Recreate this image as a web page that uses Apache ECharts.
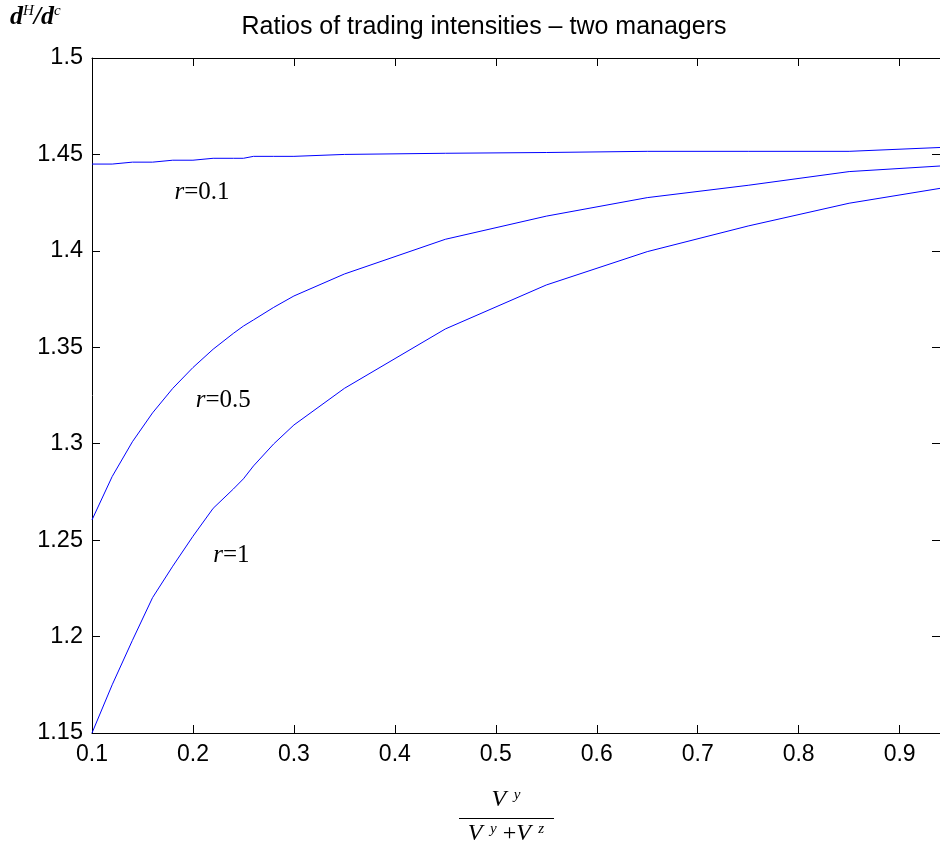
<!DOCTYPE html>
<html>
<head>
<meta charset="utf-8">
<script src="https://cdn.jsdelivr.net/npm/echarts@6/dist/echarts.min.js"></script>
<style>html,body{margin:0;padding:0;background:#fff}#c{width:940px;height:850px}</style>
</head>
<body>
<div id="c"></div>
<script>
// ---- data ----
const xValues = [0.1, 0.12, 0.14, 0.16, 0.18, 0.2, 0.22, 0.24, 0.25, 0.26, 0.28, 0.3, 0.35, 0.45, 0.55, 0.65, 0.75, 0.85, 0.94];
const r01 = [1.445, 1.445, 1.446, 1.446, 1.447, 1.447, 1.448, 1.448, 1.448, 1.449, 1.449, 1.449, 1.450, 1.4506, 1.451, 1.4516, 1.4516, 1.4516, 1.4536];
const r05 = [1.2605, 1.283, 1.301, 1.316, 1.3287, 1.3395, 1.349, 1.3572, 1.361, 1.3642, 1.3707, 1.3766, 1.388, 1.406, 1.418, 1.4276, 1.434, 1.4411, 1.444];
const r1  = [1.15, 1.175, 1.198, 1.2202, 1.2365, 1.252, 1.2665, 1.2765, 1.2818, 1.2885, 1.2999, 1.3097, 1.3287, 1.3595, 1.3823, 1.3996, 1.4129, 1.4247, 1.4324];
const seriesNames = ['r=0.1', 'r=0.5', 'r=1'];
const labelTexts = ['0.1', '0.5', '1'];
const labelX = [0.209, 0.23, 0.238];
const labelY = [1.4305, 1.3222, 1.2423];
const titleText = 'Ratios of trading intensities \u2013 two managers';

const chart = echarts.init(document.getElementById('c'), null, {renderer: 'canvas'});
const pairs = ys => xValues.map((x, i) => [x, ys[i]]);
const serif = 'Liberation Serif';
const sans = 'Liberation Sans';

const lineSeries = [r01, r05, r1].map((ys, i) => ({
  name: seriesNames[i], type: 'line', data: pairs(ys), showSymbol: false, symbol: 'none',
  lineStyle: {color: '#0000ff', width: 1}, itemStyle: {color: '#0000ff'}, clip: true, animation: false
}));

const labelSeries = {
  type: 'scatter', symbolSize: 0, animation: false, silent: true,
  itemStyle: {color: '#000', opacity: 1},
  data: labelTexts.map((t, i) => ({value: [labelX[i], labelY[i]], name: t})),
  label: {
    show: true, position: 'inside', color: '#000', opacity: 1, textBorderWidth: 0,
    formatter: p => '{i|r}{n|=' + p.name + '}',
    rich: {
      i: {fontFamily: serif, fontStyle: 'italic', fontSize: 25, color: '#000', textBorderWidth: 0},
      n: {fontFamily: serif, fontSize: 25, color: '#000', textBorderWidth: 0}
    }
  }
};

const tickStyle = {show: true, inside: true, length: 8, lineStyle: {color: '#000', width: 1}};

chart.setOption({
  animation: false,
  backgroundColor: '#fff',
  title: {
    text: titleText, left: 479, top: 10, textAlign: 'center',
    textStyle: {fontFamily: sans, fontSize: 25, fontWeight: 'normal', color: '#000'}
  },
  grid: {left: 92, top: 58, right: 0, bottom: 117, containLabel: false, outerBoundsMode: 'none'},
  xAxis: [
    {type: 'value', position: 'bottom', min: 0.1, max: 0.94, interval: 0.1,
     axisLine: {show: true, lineStyle: {color: '#000', width: 1}},
     axisTick: tickStyle, splitLine: {show: false},
     axisLabel: {show: true, showMaxLabel: false, margin: 10, fontFamily: sans, fontSize: 23, color: '#000',
       formatter: v => (+v.toFixed(2)).toString()}},
    {type: 'value', position: 'top', min: 0.1, max: 0.94, interval: 0.1,
     axisLine: {show: true, lineStyle: {color: '#000', width: 1}},
     axisTick: tickStyle, splitLine: {show: false}, axisLabel: {show: false}}
  ],
  yAxis: [
    {type: 'value', position: 'left', min: 1.15, max: 1.5, interval: 0.05,
     axisLine: {show: true, lineStyle: {color: '#000', width: 1}},
     axisTick: tickStyle, splitLine: {show: false},
     axisLabel: {show: true, margin: 9, fontFamily: sans, fontSize: 23.5, color: '#000',
       formatter: v => (+v.toFixed(2)).toString()}},
    {type: 'value', position: 'right', min: 1.15, max: 1.5, interval: 0.05,
     axisLine: {show: false}, axisTick: tickStyle, splitLine: {show: false}, axisLabel: {show: false}}
  ],
  series: [...lineSeries, labelSeries],
  graphic: [
    {type: 'text', x: 10, y: 4, style: {
      text: '{d|d}{s|H}{d|/d}{s|c}',
      rich: {
        d: {fontFamily: serif, fontStyle: 'italic', fontWeight: 'bold', fontSize: 26, color: '#000'},
        s: {fontFamily: serif, fontStyle: 'italic', fontSize: 15, color: '#000', verticalAlign: 'top'}
      }
    }},
    {type: 'text', x: 506, y: 800, style: {
      text: '{v|V}{s|  y}', textAlign: 'center', textVerticalAlign: 'middle',
      rich: {
        v: {fontFamily: serif, fontStyle: 'italic', fontSize: 24, color: '#000'},
        s: {fontFamily: serif, fontStyle: 'italic', fontSize: 15, color: '#000', verticalAlign: 'top'}
      }
    }},
    {type: 'line', shape: {x1: 459, y1: 818.5, x2: 554, y2: 818.5}, style: {stroke: '#000', lineWidth: 1}},
    {type: 'text', x: 506, y: 834, style: {
      text: '{v|V}{s|  y}{p| +}{v|V}{s|  z}', textAlign: 'center', textVerticalAlign: 'middle',
      rich: {
        v: {fontFamily: serif, fontStyle: 'italic', fontSize: 24, color: '#000'},
        p: {fontFamily: serif, fontSize: 24, color: '#000'},
        s: {fontFamily: serif, fontStyle: 'italic', fontSize: 15, color: '#000', verticalAlign: 'top'}
      }
    }}
  ]
});
</script>
</body>
</html>
